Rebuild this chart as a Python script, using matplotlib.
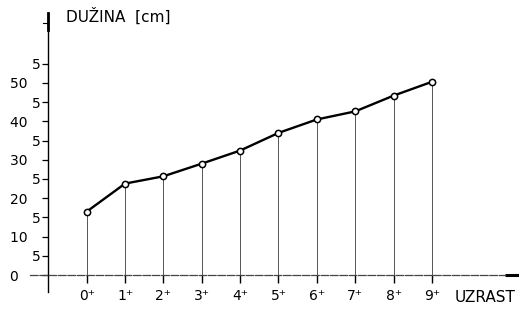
import numpy as np
import matplotlib
matplotlib.use("Agg")
from matplotlib import pyplot as plt

# age classes (uzrast) and mean length (duzina, cm)
ages = ["0⁺", "1⁺", "2⁺", "3⁺", "4⁺", "5⁺", "6⁺", "7⁺", "8⁺", "9⁺"]
length_cm = [16.5, 23.8, 25.7, 29.0, 32.4, 37.0, 40.5, 42.6, 46.7, 50.3]

y_ticks = [0, 5, 10, 15, 20, 25, 30, 35, 40, 45, 50, 55]
y_labels = ["0     ", "5", "10   ", "5", "20   ", "5", "30   ", "5",
            "40   ", "5", "50   ", "5"]

plt.rcParams['font.family'] = ['DejaVu Sans']

fig = plt.figure(figsize=(5.19, 3.09), dpi=100)
ax = fig.add_axes([0, 0, 1, 1])
ax.set_xlim(-2.26, 11.27)
ax.set_ylim(-8.85, 71.6)

x = np.arange(len(ages))

# drop lines from each point to the base line
ax.vlines(x, 0, length_cm, colors="#555555", linewidth=0.7)
ax.plot(x, length_cm, color="black", linewidth=1.7, marker="o",
        markersize=4.5, markerfacecolor="white", markeredgecolor="black",
        markeredgewidth=1.1, zorder=3)

# axes drawn like the hand-made original
for side in ("top", "right"):
    ax.spines[side].set_visible(False)
ax.spines["left"].set_position(("data", -1.0))
ax.spines["left"].set_bounds(-4.4, 68.2)
ax.spines["left"].set_linewidth(1.0)
ax.spines["bottom"].set_position(("data", 0))
ax.spines["bottom"].set_bounds(-1.48, 10.9)
ax.spines["bottom"].set_linestyle((0, (6, 1.5)))
ax.spines["bottom"].set_color("#444444")
ax.spines["bottom"].set_linewidth(0.9)
# arrow end on the x axis
ax.plot([10.9, 11.27], [0, 0], color="black", linewidth=2.2, solid_capstyle="butt")
# thick top part of the y axis, with its small mark
ax.plot([-1.0, -1.0], [63.8, 68.2], color="black", linewidth=2.0)
ax.plot([-1.15, -1.0], [65.6, 65.6], color="black", linewidth=0.8)

ax.set_yticks(y_ticks)
ax.set_yticklabels(y_labels, fontsize=10)
ax.tick_params(axis="y", direction="out", length=4.5, width=0.9, pad=1)
ax.set_xticks(x)
ax.set_xticklabels(ages, fontsize=10)
ax.tick_params(axis="x", direction="out", length=6, width=1.0, pad=4)

ax.text(-0.55, 67.3, "DUŽINA  [cm]", fontsize=11, ha="left", va="center")
ax.text(9.6, -5.8, "UZRAST", fontsize=11, ha="left", va="center")

fig.savefig("out.png", dpi=100)
